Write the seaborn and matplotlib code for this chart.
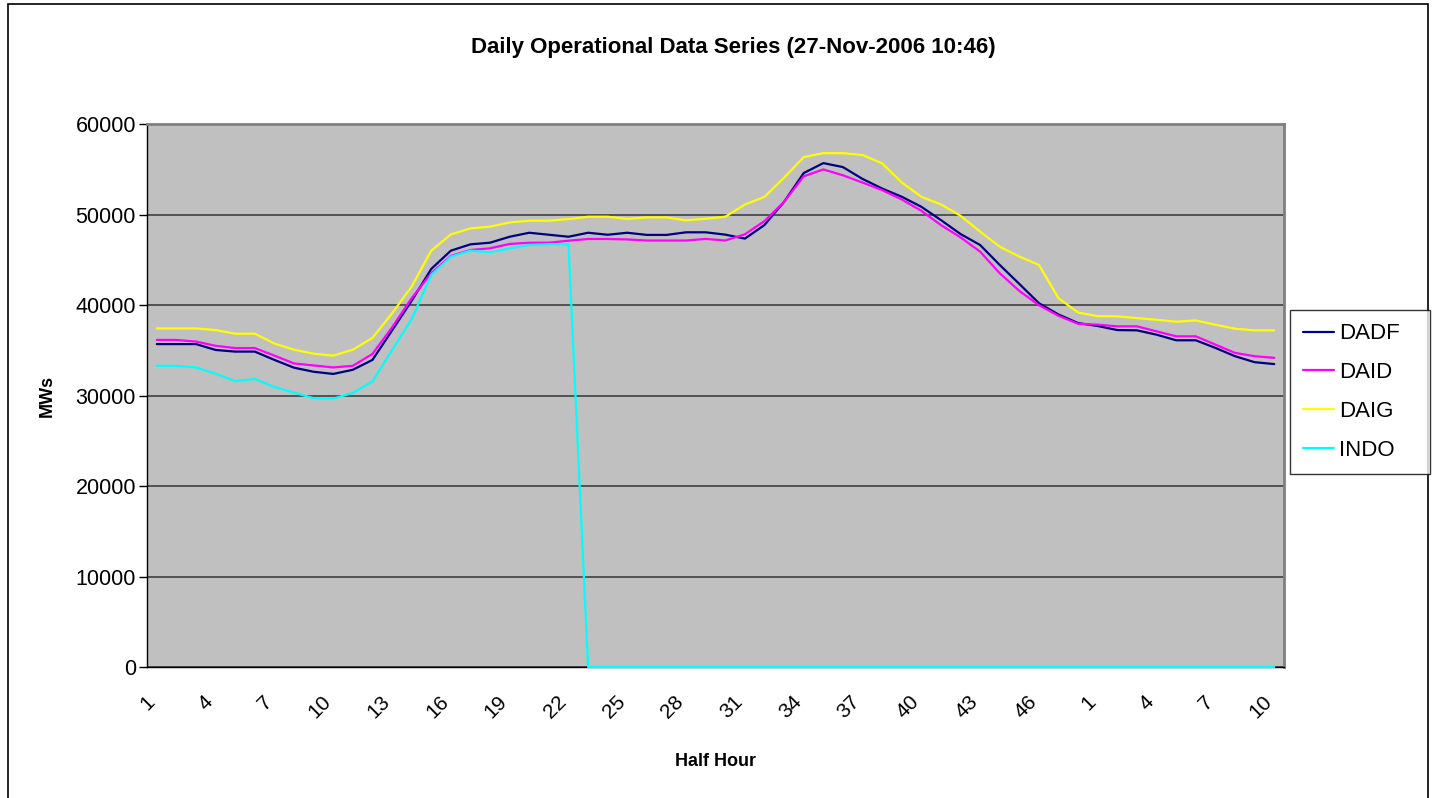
import numpy as np
import pandas as pd
import seaborn as sns
import matplotlib.pyplot as plt
from matplotlib.patches import Rectangle
from matplotlib.transforms import ScaledTranslation

# half hours: one full day (1-48) then the first 10 of the next day
half_hours = list(range(1, 49)) + list(range(1, 11))

dadf = [35700, 35700, 35700, 35050, 34870, 34870, 33950, 33090, 32640, 32400,
        32860, 33950, 37200, 40480, 44010, 46030, 46730, 46910, 47570, 48010,
        47790, 47570, 48010, 47790, 48010, 47770, 47770, 48060, 48060, 47800,
        47360, 48870, 51430, 54610, 55710, 55270, 53960, 52900, 51990, 50880,
        49410, 47870, 46650, 44450, 42350, 40220, 38970, 38020, 37700, 37250,
        37220, 36740, 36120, 36120, 35280, 34360, 33700, 33490]
daid = [36160, 36160, 35980, 35510, 35260, 35260, 34420, 33560, 33340, 33120,
        33300, 34610, 37540, 40770, 43530, 45440, 46100, 46290, 46770, 46910,
        46910, 47130, 47320, 47320, 47270, 47150, 47150, 47150, 47330, 47150,
        47840, 49300, 51430, 54250, 55010, 54360, 53560, 52720, 51690, 50440,
        48860, 47500, 45920, 43530, 41580, 40000, 38820, 37940, 37850, 37660,
        37660, 37110, 36560, 36560, 35640, 34730, 34360, 34180]
daig = [37430, 37430, 37430, 37250, 36850, 36850, 35760, 35080, 34640, 34420,
        35080, 36380, 39100, 42060, 46030, 47830, 48490, 48680, 49150, 49340,
        49340, 49520, 49780, 49780, 49540, 49710, 49710, 49380, 49560, 49780,
        51130, 51980, 54100, 56370, 56810, 56810, 56600, 55690, 53570, 51990,
        51140, 49890, 48130, 46470, 45370, 44450, 40770, 39190, 38780, 38770,
        38570, 38390, 38170, 38320, 37840, 37400, 37220, 37220]
indo = [33300, 33300, 33120, 32430, 31600, 31850, 30950, 30330, 29720, 29680,
        30300, 31570, 35040, 38460, 43350, 45370, 46030, 45850, 46290, 46650,
        46730, 46730] + [0] * 36

series = {"DADF": dadf, "DAID": daid, "DAIG": daig, "INDO": indo}
colors = {"DADF": "#000080", "DAID": "#FF00FF", "DAIG": "#FFFF00", "INDO": "#00FFFF"}

pos = np.arange(len(half_hours))
df = pd.concat(
    [pd.DataFrame({"pos": pos, "MWs": vals, "series": name}) for name, vals in series.items()],
    ignore_index=True,
)

sns.set_style("white")
plt.rcParams["font.family"] = ["Liberation Sans", "DejaVu Sans"]
plt.rcParams["text.color"] = "black"
plt.rcParams["axes.labelcolor"] = "black"
plt.rcParams["xtick.color"] = "black"
plt.rcParams["ytick.color"] = "black"

fig = plt.figure(figsize=(14.33, 7.98), dpi=100)
ax = fig.add_axes([147 / 1433, 1 - 667 / 798, 1137 / 1433, 542.7 / 798])
ax.set_facecolor("#C0C0C0")

sns.lineplot(data=df, x="pos", y="MWs", hue="series", palette=colors,
             linewidth=1.6, ax=ax, legend=False, clip_on=False, zorder=5)

ax.set_xlim(-0.5, len(half_hours) - 0.5)
ax.set_ylim(0, 60000)
ax.set_yticks(range(0, 60001, 10000))
ax.yaxis.grid(True, color="#404040", linewidth=1.2)
ax.set_axisbelow(True)

ax.set_xticks(pos[::3])
ax.set_xticklabels([str(h) for h in half_hours[::3]], rotation=45, ha="right",
                   va="top", rotation_mode="anchor")
ax.set_xticks(np.arange(-0.5, len(half_hours)), minor=True)
ax.tick_params(axis="x", which="major", length=0, pad=18, labelsize=15)
ax.tick_params(axis="x", which="minor", length=6, width=1, color="black", direction="out")
ax.tick_params(axis="y", length=6, width=1, color="black", direction="out",
               labelsize=15.5, left=True, pad=2)
shift = ScaledTranslation(-12 / 100, 0, fig.dpi_scale_trans)
for lab in ax.get_xticklabels():
    lab.set_transform(lab.get_transform() + shift)

for side in ("top", "right"):
    ax.spines[side].set_color("#808080")
    ax.spines[side].set_linewidth(2)
for side in ("left", "bottom"):
    ax.spines[side].set_color("black")
    ax.spines[side].set_linewidth(1)

ax.set_xlabel("Half Hour", fontsize=13, fontweight="bold", labelpad=22)
ax.set_ylabel("MWs", fontsize=13, fontweight="bold", labelpad=14)
fig.suptitle("Daily Operational Data Series (27-Nov-2006 10:46)", x=733 / 1433,
             y=1 - 48 / 798, va="center", fontsize=16, fontweight="bold")

handles = [plt.Line2D([], [], color=colors[n], linewidth=1.6) for n in series]
fig.legend(handles, list(series), loc="upper left",
           bbox_to_anchor=(1290 / 1433, 1 - 310 / 798, 140 / 1433, 0), mode="expand",
           frameon=True, fancybox=False, edgecolor="black", fontsize=16,
           handlelength=1.4, labelspacing=0.8, borderpad=0.6, handletextpad=0.2,
           borderaxespad=0)

fig.patches.append(Rectangle((8 / 1433, -0.01), 1420 / 1433, 1 - 4 / 798 + 0.01,
                             transform=fig.transFigure, fill=False,
                             edgecolor="black", linewidth=1.2))

fig.savefig("out.png", dpi=100)
